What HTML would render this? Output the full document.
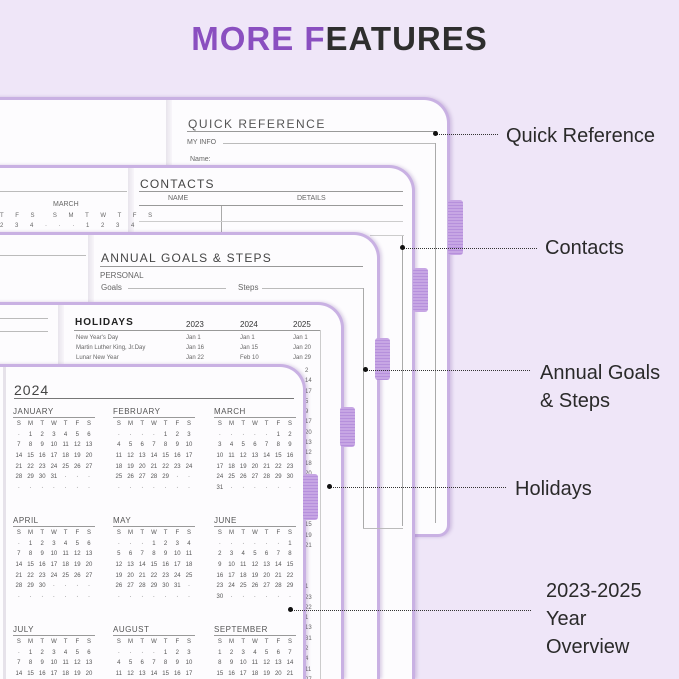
<!DOCTYPE html>
<html style="width:679px;height:679px;overflow:hidden"><head><meta charset="utf-8"><style>
*{margin:0;padding:0;box-sizing:border-box}
body{width:679px;height:679px;overflow:hidden;background:#efe6f8;font-family:"Liberation Sans",sans-serif;position:relative;color:#555}
.a{position:absolute}
.pg{position:absolute;left:-12px;background:#fdfcfe;border:3px solid #c9b1e3;border-left:none;border-bottom:none;border-top-right-radius:26px;box-shadow:2px 0 3px rgba(120,80,160,.25)}
.tab{position:absolute;width:15px;border-radius:3px;background:repeating-linear-gradient(#c7a6e4 0 2px,#b690dc 2px 3px)}
.lbl{position:absolute;font-size:20px;color:#2a2a2a;line-height:28px}
.dot{position:absolute;height:0;border-top:1.5px dotted #333}
.dot:before{content:"";position:absolute;left:-3px;top:-4px;width:5px;height:5px;border-radius:50%;background:#111}
.hl{position:absolute;height:1px;background:#999}
.vl{position:absolute;width:1px;background:#aaa}
.sp{position:absolute;width:6px;background:linear-gradient(90deg,#e8e4ec,#f8f6fa)}
.t{position:absolute;font-size:7px;color:#666;white-space:nowrap}
.m{position:absolute;width:82px;font-size:6px;color:#555}
.m b{display:block;font-weight:normal;font-size:8px;letter-spacing:.5px;color:#555;border-bottom:1px solid #999;padding-bottom:1px;margin-bottom:3px}
.m div{display:flex;height:10.7px}
.m i{font-style:normal;width:11.7px;text-align:center}
</style></head><body>
<div class="a" style="left:0;top:20px;width:679px;text-align:center;font-size:33px;font-weight:bold;letter-spacing:1px;color:#2e2e2e"><span style="color:#8a4fc0">MORE F</span>EATURES</div>

<!-- Quick reference page -->
<div class="pg" style="top:97px;width:462px;height:440px;border-bottom:3px solid #c9b1e3;border-bottom-right-radius:12px"></div>
<div class="sp" style="left:166px;top:100px;height:435px"></div>
<div class="t" style="left:188px;top:117px;font-size:12px;letter-spacing:1.5px;color:#555">QUICK REFERENCE</div>
<div class="hl" style="left:187px;top:131px;width:250px"></div>
<div class="t" style="left:187px;top:139px;font-size:7px">MY INFO</div>
<div class="hl" style="left:223px;top:143px;width:213px;background:#bbb"></div>
<div class="vl" style="left:435px;top:143px;height:380px"></div>
<div class="t" style="left:190px;top:156px">Name:</div>
<div class="tab" style="left:448px;top:200px;height:55px"></div>

<!-- Contacts -->
<div class="pg" style="top:165px;width:427px;height:514px"></div>
<div class="sp" style="left:128px;top:168px;height:100px"></div>
<div class="t" style="left:53px;top:201px;font-size:7px">MARCH</div>
<div class="hl" style="left:0;top:191px;width:127px;background:#bbb"></div>
<div class="t" style="left:0;top:213px;font-size:6px;letter-spacing:5px">T F S &nbsp;S M T W T F S</div>
<div class="t" style="left:0;top:223px;font-size:6px;letter-spacing:5px">2 3 4 · · · 1 2 3 4</div>
<div class="t" style="left:140px;top:177px;font-size:12px;letter-spacing:1.2px;color:#444">CONTACTS</div>
<div class="hl" style="left:139px;top:191px;width:264px"></div>
<div class="t" style="left:168px;top:195px;font-size:7px">NAME</div>
<div class="t" style="left:297px;top:195px;font-size:7px">DETAILS</div>
<div class="hl" style="left:139px;top:205px;width:264px"></div>
<div class="vl" style="left:221px;top:206px;height:30px"></div>
<div class="hl" style="left:139px;top:221px;width:264px;background:#ccc"></div>
<div class="hl" style="left:370px;top:235px;width:34px;background:#ccc"></div>
<div class="tab" style="left:413px;top:268px;height:44px"></div>

<!-- Annual goals -->
<div class="pg" style="top:232px;width:392px;height:447px"></div>
<div class="sp" style="left:88px;top:235px;height:70px"></div>
<div class="hl" style="left:0;top:255px;width:86px;background:#bbb"></div>
<div class="t" style="left:101px;top:251px;font-size:12px;letter-spacing:1.2px;color:#444">ANNUAL GOALS &amp; STEPS</div>
<div class="hl" style="left:100px;top:266px;width:263px"></div>
<div class="t" style="left:100px;top:271px;font-size:8px">PERSONAL</div>
<div class="t" style="left:101px;top:283px;font-size:8px">Goals</div>
<div class="t" style="left:238px;top:283px;font-size:8px">Steps</div>
<div class="hl" style="left:128px;top:288px;width:98px;background:#bbb"></div>
<div class="hl" style="left:262px;top:288px;width:101px;background:#bbb"></div>
<div class="vl" style="left:363px;top:288px;height:240px"></div>
<div class="vl" style="left:402px;top:236px;height:290px"></div>
<div class="hl" style="left:363px;top:528px;width:40px;background:#bbb"></div>
<div class="tab" style="left:375px;top:338px;height:42px"></div>

<!-- Holidays -->
<div class="pg" style="top:302px;width:356px;height:377px"></div>
<div class="sp" style="left:58px;top:305px;height:70px"></div>
<div class="hl" style="left:0;top:318px;width:48px;background:#bbb"></div>
<div class="hl" style="left:0;top:331px;width:48px;background:#bbb"></div>
<div class="t" style="left:75px;top:317px;font-size:10px;font-weight:bold;letter-spacing:1px;color:#222">HOLIDAYS</div>
<div class="t" style="left:186px;top:320px;font-size:8px;color:#333">2023</div>
<div class="t" style="left:240px;top:320px;font-size:8px;color:#333">2024</div>
<div class="t" style="left:293px;top:320px;font-size:8px;color:#333">2025</div>
<div class="hl" style="left:74px;top:330px;width:246px"></div>
<div class="t" style="left:76px;top:335px;font-size:6px">New Year's Day</div>
<div class="t" style="left:76px;top:345px;font-size:6px">Martin Luther King, Jr.Day</div>
<div class="t" style="left:76px;top:355px;font-size:6px">Lunar New Year</div>
<div class="t" style="left:186px;top:335px;font-size:6px">Jan 1</div>
<div class="t" style="left:186px;top:345px;font-size:6px">Jan 16</div>
<div class="t" style="left:186px;top:355px;font-size:6px">Jan 22</div>
<div class="t" style="left:240px;top:335px;font-size:6px">Jan 1</div>
<div class="t" style="left:240px;top:345px;font-size:6px">Jan 15</div>
<div class="t" style="left:240px;top:355px;font-size:6px">Feb 10</div>
<div class="t" style="left:293px;top:335px;font-size:6px">Jan 1</div>
<div class="t" style="left:293px;top:345px;font-size:6px">Jan 20</div>
<div class="t" style="left:293px;top:355px;font-size:6px">Jan 29</div>
<div class="t" style="left:305px;top:366px;font-size:6px;line-height:10.3px">2<br>14<br>17<br>5<br>9<br>17<br>20<br>13<br>12<br>18<br>20<br><br><br><br>14<br>15<br>19<br>21<br><br><br><br>1<br>23<br>22<br>1<br>13<br>31<br>2<br>4<br>11<br>27</div>
<div class="vl" style="left:320px;top:330px;height:350px;background:#ccc"></div>
<div class="tab" style="left:340px;top:407px;height:40px"></div>

<!-- 2024 page -->
<div class="pg" style="top:364px;width:318px;height:315px"></div>
<div class="vl" style="left:3px;top:367px;height:312px;background:#e6e2ea;width:3px"></div>
<div class="t" style="left:14px;top:382px;font-size:14px;letter-spacing:1px;color:#444">2024</div>
<div class="hl" style="left:14px;top:398px;width:280px;background:#777"></div>
<div class="tab" style="left:303px;top:474px;height:46px"></div>

<div class="m" style="left:13px;top:407px"><b>JANUARY</b>
<div><i>S</i><i>M</i><i>T</i><i>W</i><i>T</i><i>F</i><i>S</i></div>
<div><i>·</i><i>1</i><i>2</i><i>3</i><i>4</i><i>5</i><i>6</i></div>
<div><i>7</i><i>8</i><i>9</i><i>10</i><i>11</i><i>12</i><i>13</i></div>
<div><i>14</i><i>15</i><i>16</i><i>17</i><i>18</i><i>19</i><i>20</i></div>
<div><i>21</i><i>22</i><i>23</i><i>24</i><i>25</i><i>26</i><i>27</i></div>
<div><i>28</i><i>29</i><i>30</i><i>31</i><i>·</i><i>·</i><i>·</i></div>
<div><i>·</i><i>·</i><i>·</i><i>·</i><i>·</i><i>·</i><i>·</i></div></div>
<div class="m" style="left:113px;top:407px"><b>FEBRUARY</b>
<div><i>S</i><i>M</i><i>T</i><i>W</i><i>T</i><i>F</i><i>S</i></div>
<div><i>·</i><i>·</i><i>·</i><i>·</i><i>1</i><i>2</i><i>3</i></div>
<div><i>4</i><i>5</i><i>6</i><i>7</i><i>8</i><i>9</i><i>10</i></div>
<div><i>11</i><i>12</i><i>13</i><i>14</i><i>15</i><i>16</i><i>17</i></div>
<div><i>18</i><i>19</i><i>20</i><i>21</i><i>22</i><i>23</i><i>24</i></div>
<div><i>25</i><i>26</i><i>27</i><i>28</i><i>29</i><i>·</i><i>·</i></div>
<div><i>·</i><i>·</i><i>·</i><i>·</i><i>·</i><i>·</i><i>·</i></div></div>
<div class="m" style="left:214px;top:407px"><b>MARCH</b>
<div><i>S</i><i>M</i><i>T</i><i>W</i><i>T</i><i>F</i><i>S</i></div>
<div><i>·</i><i>·</i><i>·</i><i>·</i><i>·</i><i>1</i><i>2</i></div>
<div><i>3</i><i>4</i><i>5</i><i>6</i><i>7</i><i>8</i><i>9</i></div>
<div><i>10</i><i>11</i><i>12</i><i>13</i><i>14</i><i>15</i><i>16</i></div>
<div><i>17</i><i>18</i><i>19</i><i>20</i><i>21</i><i>22</i><i>23</i></div>
<div><i>24</i><i>25</i><i>26</i><i>27</i><i>28</i><i>29</i><i>30</i></div>
<div><i>31</i><i>·</i><i>·</i><i>·</i><i>·</i><i>·</i><i>·</i></div></div>

<div class="m" style="left:13px;top:516px"><b>APRIL</b>
<div><i>S</i><i>M</i><i>T</i><i>W</i><i>T</i><i>F</i><i>S</i></div>
<div><i>·</i><i>1</i><i>2</i><i>3</i><i>4</i><i>5</i><i>6</i></div>
<div><i>7</i><i>8</i><i>9</i><i>10</i><i>11</i><i>12</i><i>13</i></div>
<div><i>14</i><i>15</i><i>16</i><i>17</i><i>18</i><i>19</i><i>20</i></div>
<div><i>21</i><i>22</i><i>23</i><i>24</i><i>25</i><i>26</i><i>27</i></div>
<div><i>28</i><i>29</i><i>30</i><i>·</i><i>·</i><i>·</i><i>·</i></div>
<div><i>·</i><i>·</i><i>·</i><i>·</i><i>·</i><i>·</i><i>·</i></div></div>
<div class="m" style="left:113px;top:516px"><b>MAY</b>
<div><i>S</i><i>M</i><i>T</i><i>W</i><i>T</i><i>F</i><i>S</i></div>
<div><i>·</i><i>·</i><i>·</i><i>1</i><i>2</i><i>3</i><i>4</i></div>
<div><i>5</i><i>6</i><i>7</i><i>8</i><i>9</i><i>10</i><i>11</i></div>
<div><i>12</i><i>13</i><i>14</i><i>15</i><i>16</i><i>17</i><i>18</i></div>
<div><i>19</i><i>20</i><i>21</i><i>22</i><i>23</i><i>24</i><i>25</i></div>
<div><i>26</i><i>27</i><i>28</i><i>29</i><i>30</i><i>31</i><i>·</i></div>
<div><i>·</i><i>·</i><i>·</i><i>·</i><i>·</i><i>·</i><i>·</i></div></div>
<div class="m" style="left:214px;top:516px"><b>JUNE</b>
<div><i>S</i><i>M</i><i>T</i><i>W</i><i>T</i><i>F</i><i>S</i></div>
<div><i>·</i><i>·</i><i>·</i><i>·</i><i>·</i><i>·</i><i>1</i></div>
<div><i>2</i><i>3</i><i>4</i><i>5</i><i>6</i><i>7</i><i>8</i></div>
<div><i>9</i><i>10</i><i>11</i><i>12</i><i>13</i><i>14</i><i>15</i></div>
<div><i>16</i><i>17</i><i>18</i><i>19</i><i>20</i><i>21</i><i>22</i></div>
<div><i>23</i><i>24</i><i>25</i><i>26</i><i>27</i><i>28</i><i>29</i></div>
<div><i>30</i><i>·</i><i>·</i><i>·</i><i>·</i><i>·</i><i>·</i></div></div>

<div class="m" style="left:13px;top:625px"><b>JULY</b>
<div><i>S</i><i>M</i><i>T</i><i>W</i><i>T</i><i>F</i><i>S</i></div>
<div><i>·</i><i>1</i><i>2</i><i>3</i><i>4</i><i>5</i><i>6</i></div>
<div><i>7</i><i>8</i><i>9</i><i>10</i><i>11</i><i>12</i><i>13</i></div>
<div><i>14</i><i>15</i><i>16</i><i>17</i><i>18</i><i>19</i><i>20</i></div></div>
<div class="m" style="left:113px;top:625px"><b>AUGUST</b>
<div><i>S</i><i>M</i><i>T</i><i>W</i><i>T</i><i>F</i><i>S</i></div>
<div><i>·</i><i>·</i><i>·</i><i>·</i><i>1</i><i>2</i><i>3</i></div>
<div><i>4</i><i>5</i><i>6</i><i>7</i><i>8</i><i>9</i><i>10</i></div>
<div><i>11</i><i>12</i><i>13</i><i>14</i><i>15</i><i>16</i><i>17</i></div></div>
<div class="m" style="left:214px;top:625px"><b>SEPTEMBER</b>
<div><i>S</i><i>M</i><i>T</i><i>W</i><i>T</i><i>F</i><i>S</i></div>
<div><i>1</i><i>2</i><i>3</i><i>4</i><i>5</i><i>6</i><i>7</i></div>
<div><i>8</i><i>9</i><i>10</i><i>11</i><i>12</i><i>13</i><i>14</i></div>
<div><i>15</i><i>16</i><i>17</i><i>18</i><i>19</i><i>20</i><i>21</i></div></div>

<!-- leaders & labels -->
<div class="dot" style="left:436px;top:134px;width:62px"></div>
<div class="dot" style="left:403px;top:248px;width:134px"></div>
<div class="dot" style="left:366px;top:370px;width:164px"></div>
<div class="dot" style="left:330px;top:487px;width:176px"></div>
<div class="dot" style="left:291px;top:610px;width:240px"></div>
<div class="lbl" style="left:506px;top:122px">Quick Reference</div>
<div class="lbl" style="left:545px;top:234px">Contacts</div>
<div class="lbl" style="left:540px;top:359px">Annual Goals<br>&amp; Steps</div>
<div class="lbl" style="left:515px;top:475px">Holidays</div>
<div class="lbl" style="left:546px;top:577px">2023-2025<br>Year<br>Overview</div>
</body></html>
